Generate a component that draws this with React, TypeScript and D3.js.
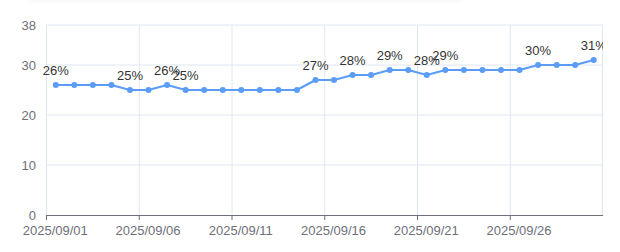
import React from "react";
import * as d3 from "d3";

const dates = [
  "2025/09/01","2025/09/02","2025/09/03","2025/09/04","2025/09/05",
  "2025/09/06","2025/09/07","2025/09/08","2025/09/09","2025/09/10",
  "2025/09/11","2025/09/12","2025/09/13","2025/09/14","2025/09/15",
  "2025/09/16","2025/09/17","2025/09/18","2025/09/19","2025/09/20",
  "2025/09/21","2025/09/22","2025/09/23","2025/09/24","2025/09/25",
  "2025/09/26","2025/09/27","2025/09/28","2025/09/29","2025/09/30",
];
const values = [
  26, 26, 26, 26, 25,
  25, 26, 25, 25, 25,
  25, 25, 25, 25, 27,
  27, 28, 28, 29, 29,
  28, 29, 29, 29, 29,
  29, 30, 30, 30, 31,
];
const yTicks = [0, 10, 20, 30, 38];
const yMax = 38;
const labelEvery = 5;

const W = 620;
const H = 252;
const left = 46.5;
const right = 603;
const top = 25;
const bottom = 215;
const lineColor = "#5a9cf8";
const gridColor = "#e0e6f1";
const axisColor = "#6e7079";
const font = "'Liberation Sans', Arial, Helvetica, sans-serif";

export default function App() {
  const x = d3.scaleBand<string>().domain(dates).range([left, right]).paddingInner(0).paddingOuter(0);
  const y = d3.scaleLinear().domain([0, yMax]).range([bottom, top]);
  const cx = (d: string) => (x(d) as number) + x.bandwidth() / 2;
  const pts = dates.map((d, i) => [cx(d), y(values[i])] as [number, number]);
  const line = d3.line()(pts) as string;
  const tickIdx = dates.map((_, i) => i).filter((i) => i % labelEvery === 0);

  return (
    <div style={{ position: "fixed", left: 0, top: 0, width: W, height: H, background: "#fff" }}>
      <svg width={W} height={H} style={{ display: "block" }}>
        <defs>
          <filter id="blur" x="-20%" y="-200%" width="140%" height="500%">
            <feGaussianBlur stdDeviation="3" />
          </filter>
          <clipPath id="clip">
            <rect x={0} y={0} width={right} height={H} />
          </clipPath>
        </defs>
        <rect x={30} y={-12} width={430} height={12} fill="#000" opacity={0.07} filter="url(#blur)" />
        {/* horizontal grid */}
        {yTicks.filter((t) => t !== 0).map((t) => (
          <line key={"h" + t} x1={left} x2={right} y1={y(t)} y2={y(t)} stroke={gridColor} strokeWidth={1} />
        ))}
        {/* vertical grid */}
        {tickIdx.map((i) => (
          <line key={"v" + i} x1={x(dates[i]) as number} x2={x(dates[i]) as number} y1={top} y2={bottom} stroke={gridColor} strokeWidth={1} />
        ))}
        <line x1={right - 0.5} x2={right - 0.5} y1={top} y2={bottom} stroke={gridColor} strokeWidth={1} />
        {/* y labels */}
        {yTicks.map((t) => (
          <text key={"yl" + t} x={36} y={y(t)} dy="0.35em" textAnchor="end" fontSize={13} fill={axisColor} fontFamily={font}>
            {t}
          </text>
        ))}
        {/* x axis */}
        <line x1={left} x2={right} y1={bottom + 0.5} y2={bottom + 0.5} stroke={axisColor} strokeWidth={1} />
        {tickIdx.map((i) => (
          <line key={"t" + i} x1={x(dates[i]) as number} x2={x(dates[i]) as number} y1={bottom} y2={bottom + 5} stroke={axisColor} strokeWidth={1} />
        ))}
        {tickIdx.map((i) => (
          <text key={"xl" + i} x={cx(dates[i]) - 0.5} y={bottom + 20} textAnchor="middle" fontSize={13} fill={axisColor} fontFamily={font}>
            {dates[i]}
          </text>
        ))}
        {/* series */}
        <path d={line} fill="none" stroke={lineColor} strokeWidth={2} strokeLinejoin="round" />
        {pts.map((p, i) => (
          <circle key={"c" + i} cx={p[0]} cy={p[1]} r={3} fill={lineColor} />
        ))}
        <g clipPath="url(#clip)">
          {pts.map((p, i) =>
            i === 0 || values[i] !== values[i - 1] ? (
              <text key={"l" + i} x={p[0]} y={p[1] - 10} textAnchor="middle" fontSize={13} fill="#333" fontFamily={font}>
                {values[i] + "%"}
              </text>
            ) : null
          )}
        </g>
      </svg>
    </div>
  );
}
